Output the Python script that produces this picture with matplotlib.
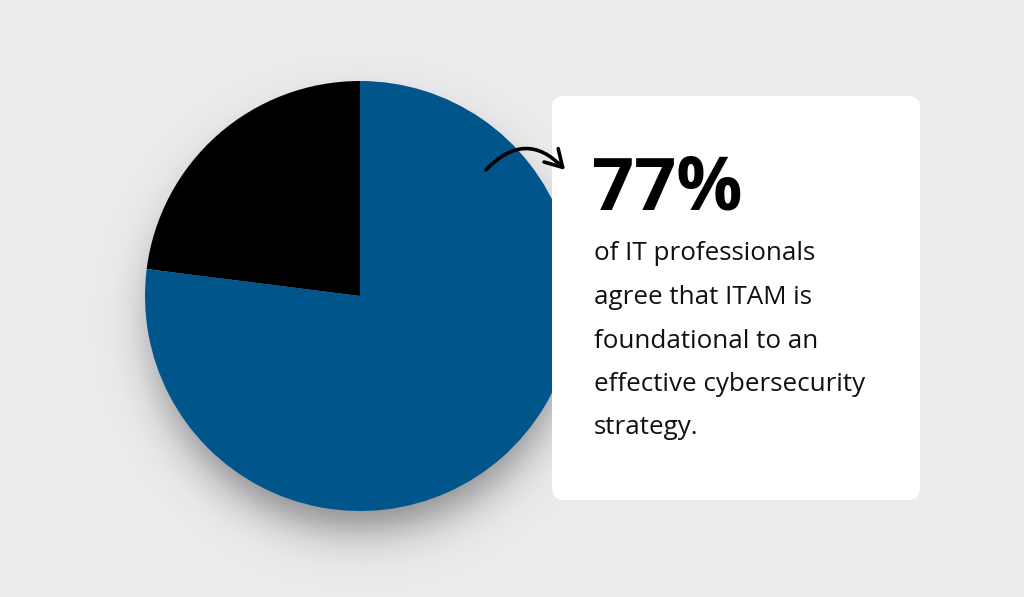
import numpy as np
import matplotlib
matplotlib.use("Agg")
import matplotlib.pyplot as plt
from matplotlib.patches import FancyBboxPatch, FancyArrowPatch

# data
segments = ["Other", "Agree ITAM is foundational"]
shares = [23, 77]
seg_colors = ["#000000", "#00568a"]

headline = "77%"
body_lines = [
    "of IT professionals",
    "agree that ITAM is",
    "foundational to an",
    "effective cybersecurity",
    "strategy.",
]

W, H = 1024, 597
bg = "#ececef"

fig = plt.figure(figsize=(W / 100, H / 100), dpi=100, facecolor=bg)
ax = fig.add_axes([0, 0, 1, 1])
ax.set_facecolor(bg)

cx, cy, R = 360, H - 296, 215

# soft drop shadow under the pie
yy, xx = np.mgrid[0:H, 0:W]
r = np.hypot(xx - cx, (yy + 0.5) - (cy - 26))
alpha = 0.45 / (1 + np.exp((r - (R - 10)) / 14.0))
shadow = np.zeros((H, W, 4))
shadow[..., 3] = alpha
ax.imshow(shadow, extent=(0, W, 0, H), origin="lower", zorder=1, interpolation="bilinear")

ax.pie(shares, colors=seg_colors, startangle=90, counterclock=True,
       radius=R, center=(cx, cy), frame=True,
       wedgeprops=dict(linewidth=0, zorder=2))
ax.set_xlim(0, W)
ax.set_ylim(0, H)
ax.set_aspect("equal")
ax.axis("off")

# white card
card = FancyBboxPatch((552 + 12, H - 500 + 12), 368 - 24, 404 - 24,
                      boxstyle="round,pad=12", facecolor="white",
                      edgecolor="none", zorder=3)
ax.add_patch(card)

ax.text(592, H - 209, headline, fontsize=53, fontweight="bold",
        family="Open Sans", color="black", va="baseline", ha="left", zorder=4)

baselines = [260, 304, 348, 391, 434]
for line, b in zip(body_lines, baselines):
    ax.text(594, H - b, line, fontsize=18.7, family="Open Sans",
            color="#111111", va="baseline", ha="left", zorder=4)

# curved arrow
arrow = FancyArrowPatch((484, H - 172), (567, H - 172),
                        connectionstyle="arc3,rad=-0.55",
                        arrowstyle="->,head_length=12,head_width=7",
                        color="black", lw=2.6, zorder=5,
                        capstyle="round", joinstyle="round")
ax.add_patch(arrow)

fig.savefig("out.png", dpi=100, facecolor=bg)
